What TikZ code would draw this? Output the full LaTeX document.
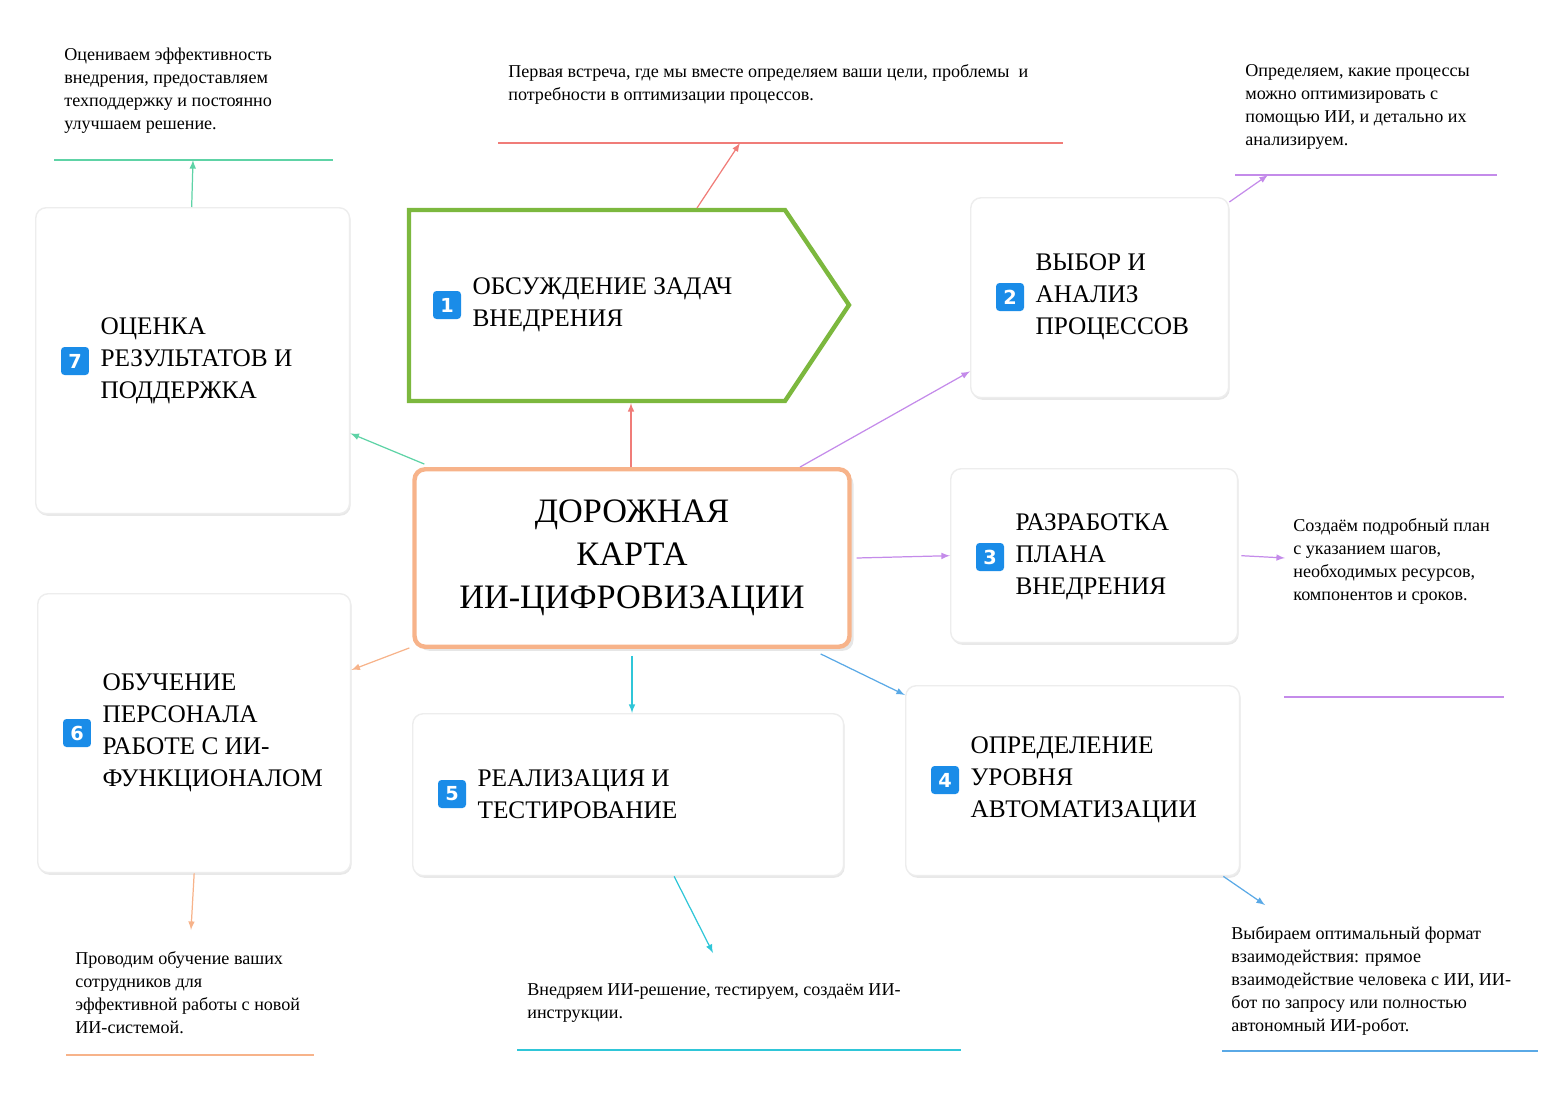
\documentclass[tikz,border=0pt]{standalone}
\usepackage{fontspec}
\setmainfont{Liberation Serif}
\newfontfamily\badgefont{DejaVu Sans}
\usetikzlibrary{shadows,positioning}
\definecolor{cred}{HTML}{F07C78}
\definecolor{cpurple}{HTML}{C48BEA}
\definecolor{cblue}{HTML}{5AA9E6}
\definecolor{ccyan}{HTML}{2FC6D8}
\definecolor{corange}{HTML}{F7B38A}
\definecolor{cteal}{HTML}{5ED3A6}
\definecolor{cgreen}{HTML}{7CB83E}
\definecolor{cbadge}{HTML}{1A8CE8}
\tikzstyle{card}=[rectangle,rounded corners=6pt,fill=white,draw=black!7,line width=0.8pt,anchor=north west,drop shadow={shadow xshift=0.6pt,shadow yshift=-1.2pt,opacity=0.3,fill=black!30}]
\tikzstyle{title}=[anchor=west,align=left,font=\fontsize{14.4}{18.3}\selectfont]
\tikzstyle{badge}=[rectangle,rounded corners=2pt,fill=cbadge,text=white,minimum size=0.56cm,inner sep=0pt,font=\badgefont\bfseries\fontsize{11}{11}\selectfont]
\tikzstyle{note}=[anchor=north west,align=left,inner sep=0pt,font=\fontsize{10.3}{13.1}\selectfont]
\tikzstyle{link}=[line width=0.7pt,-latex]
\begin{document}
\begin{tikzpicture}[x=0.02cm,y=-0.02cm]
	\useasboundingbox (0,0) rectangle (1564,1105);

	% Center
	\node[rectangle,rounded corners=6pt,draw=corange,line width=2.5pt,fill=white,minimum width=8.7cm,minimum height=3.55cm,align=center,font=\fontsize{19.5}{24.5}\selectfont,drop shadow={opacity=0.2}] (c) at (632,558) {ДОРОЖНАЯ\\КАРТА\\ИИ-ЦИФРОВИЗАЦИИ};

	% Step 1
	\draw[cgreen,line width=2.5pt,fill=white] (409,210) -- (785,210) -- (849,305) -- (785,401) -- (409,401) -- cycle;
	\coordinate (b1s) at (631,403);
	\coordinate (b1n) at (697,208);
	\node[badge] (n1) at (447,305) {1};
	\node[title,right=0.1cm of n1] (t1) {ОБСУЖДЕНИЕ ЗАДАЧ\\ВНЕДРЕНИЯ};

	% Cards
	\node[card,minimum width=5.16cm,minimum height=4cm] (b2) at (970,197) {};
	\node[card,minimum width=5.74cm,minimum height=3.48cm] (b3) at (950,468) {};
	\node[card,minimum width=6.68cm,minimum height=3.8cm] (b4) at (905,685) {};
	\node[card,minimum width=8.62cm,minimum height=3.24cm] (b5) at (412,713) {};
	\node[card,minimum width=6.26cm,minimum height=5.58cm] (b6) at (37,593) {};
	\node[card,minimum width=6.28cm,minimum height=6.12cm] (b7) at (35,207) {};

	\node[badge] (n2) at (1010,297) {2};
	\node[title,right=0.1cm of n2] {ВЫБОР И\\АНАЛИЗ\\ПРОЦЕССОВ};
	\node[badge] (n3) at (990,557) {3};
	\node[title,right=0.1cm of n3] {РАЗРАБОТКА\\ПЛАНА\\ВНЕДРЕНИЯ};
	\node[badge] (n4) at (945,780) {4};
	\node[title,right=0.1cm of n4] {ОПРЕДЕЛЕНИЕ\\УРОВНЯ\\АВТОМАТИЗАЦИИ};
	\node[badge] (n5) at (452,794) {5};
	\node[title,right=0.1cm of n5] {РЕАЛИЗАЦИЯ И\\ТЕСТИРОВАНИЕ};
	\node[badge] (n6) at (77,733) {6};
	\node[title,right=0.1cm of n6] {ОБУЧЕНИЕ\\ПЕРСОНАЛА\\РАБОТЕ С ИИ-\\ФУНКЦИОНАЛОМ};
	\node[badge] (n7) at (75,361) {7};
	\node[title,right=0.1cm of n7] {ОЦЕНКА\\РЕЗУЛЬТАТОВ И\\ПОДДЕРЖКА};

	% Notes
	\node[note] (a7) at (64,48) {Оцениваем эффективность\\внедрения, предоставляем\\техподдержку и постоянно\\улучшаем решение.};
	\node[note] (a1) at (508,64) {Первая встреча, где мы вместе определяем ваши цели, проблемы~ и\\потребности в оптимизации процессов.};
	\node[note] (a2) at (1245,64) {Определяем, какие процессы\\можно оптимизировать с\\помощью ИИ, и детально их\\анализируем.};
	\node[note] (a3) at (1293,518) {Создаём подробный план\\с указанием шагов,\\необходимых ресурсов,\\компонентов и сроков.};
	\node[note] (a4) at (1231,926) {Выбираем оптимальный формат\\взаимодействия: прямое\\взаимодействие человека с ИИ, ИИ-\\бот по запросу или полностью\\автономный ИИ-робот.};
	\node[note] (a5) at (527,983) {Внедряем ИИ-решение, тестируем, создаём ИИ-\\инструкции.};
	\node[note] (a6) at (75,951) {Проводим обучение ваших\\сотрудников для\\эффективной работы с новой\\ИИ-системой.};

	% Connectors
	\draw[link,cred] ([xshift=-0.02cm]c.north) -- (b1s);
	\draw[link,cred] (b1n) -- (740,143);
	\draw[cred,line width=0.7pt] (498,143) -- (1063,143);

	\draw[link,cpurple] ([xshift=3.36cm]c.north) -- ([yshift=0.54cm]b2.south west);
	\draw[link,cpurple] ([yshift=-0.1cm]b2.north east) -- (1268,175);
	\draw[cpurple,line width=0.7pt] (1235,175) -- (1497,175);

	\draw[link,cpurple] ([xshift=0.1cm]c.east) -- (b3.west);
	\draw[link,cpurple] ([xshift=0.06cm]b3.east) -- (1285,558);
	\draw[cpurple,line width=0.7pt] (1284,697) -- (1504,697);

	\draw[link,cblue] ([xshift=-0.62cm,yshift=-0.1cm]c.south east) -- ([yshift=-0.2cm]b4.north west);
	\draw[link,cblue] ([xshift=-0.34cm]b4.south east) -- (1265,905);
	\draw[cblue,line width=0.7pt] (1222,1051) -- (1538,1051);

	\draw[link,ccyan] ([yshift=-0.14cm]c.south) -- (b5.north -| c.south);
	\draw[link,ccyan] ([xshift=0.92cm]b5.south) -- (713,953);
	\draw[ccyan,line width=0.7pt] (517,1050) -- (961,1050);

	\draw[link,corange] ([xshift=-0.06cm,yshift=0.02cm]c.south west) -- ([yshift=-1.54cm]b6.north east);
	\draw[link,corange] (b6.south) -- (191,930);
	\draw[corange,line width=0.7pt] (66,1055) -- (314,1055);

	\draw[link,cteal] ([xshift=0.24cm,yshift=0.06cm]c.north west) -- ([yshift=1.62cm]b7.south east);
	\draw[link,cteal] ([xshift=-0.02cm]b7.north) -- (193,160);
	\draw[cteal,line width=0.7pt] (54,160) -- (333,160);
\end{tikzpicture}
\end{document}
